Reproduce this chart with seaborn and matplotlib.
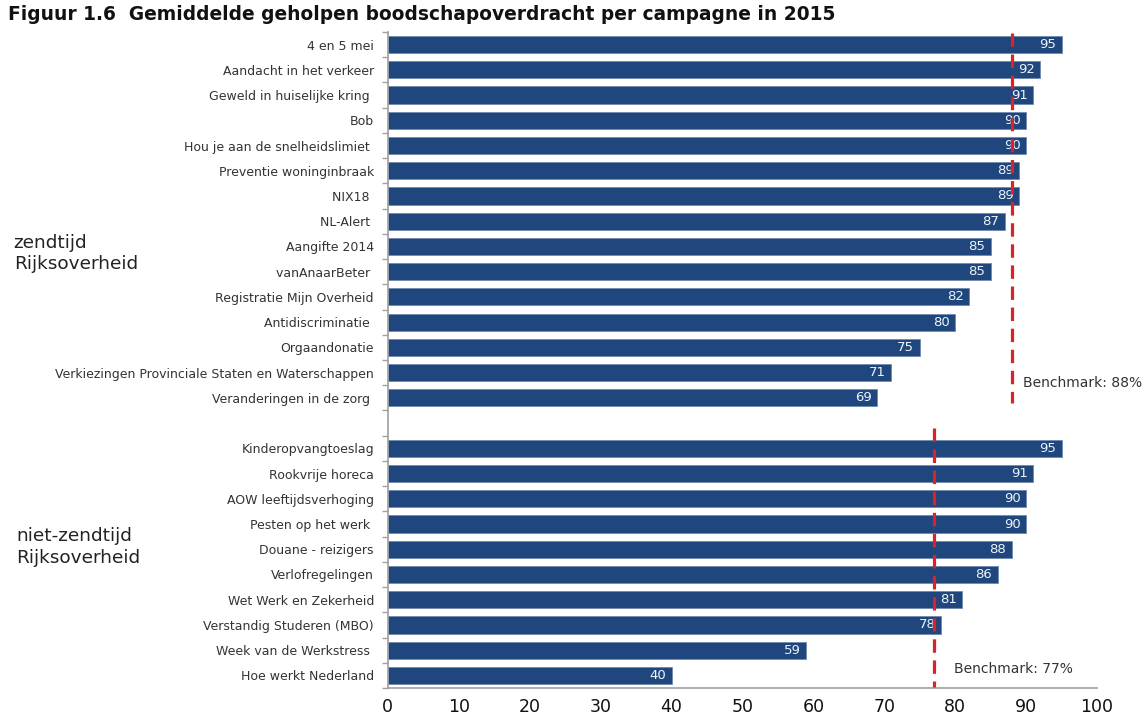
import matplotlib
matplotlib.use("Agg")
import matplotlib.pyplot as plt
import numpy as np
import pandas as pd
import seaborn as sns

# Campaigns broadcast in government airtime
zendtijd_campagnes = [
    "4 en 5 mei", "Aandacht in het verkeer", "Geweld in huiselijke kring ", "Bob",
    "Hou je aan de snelheidslimiet ", "Preventie woninginbraak", "NIX18 ", "NL-Alert ",
    "Aangifte 2014", "vanAnaarBeter ", "Registratie Mijn Overheid", "Antidiscriminatie ",
    "Orgaandonatie", "Verkiezingen Provinciale Staten en Waterschappen",
    "Veranderingen in de zorg ",
]
zendtijd_waarden = [95, 92, 91, 90, 90, 89, 89, 87, 85, 85, 82, 80, 75, 71, 69]

# Campaigns outside government airtime
niet_zendtijd_campagnes = [
    "Kinderopvangtoeslag", "Rookvrije horeca", "AOW leeftijdsverhoging",
    "Pesten op het werk ", "Douane - reizigers", "Verlofregelingen",
    "Wet Werk en Zekerheid", "Verstandig Studeren (MBO)", "Week van de Werkstress ",
    "Hoe werkt Nederland",
]
niet_zendtijd_waarden = [95, 91, 90, 90, 88, 86, 81, 78, 59, 40]

benchmark_zendtijd = 88
benchmark_niet_zendtijd = 77
x_ticks = list(range(0, 101, 10))

titel = "Figuur 1.6  Gemiddelde geholpen boodschapoverdracht per campagne in 2015"
groep_labels = ["zendtijd\nRijksoverheid", "niet-zendtijd\nRijksoverheid"]

BAR_COLOR = "#1F477E"
RED = "#D8232A"
GRID_GRAY = "#A0A0A0"

df = pd.DataFrame({
    "campagne": zendtijd_campagnes + niet_zendtijd_campagnes,
    "waarde": zendtijd_waarden + niet_zendtijd_waarden,
})
# an empty slot separates the two groups
order = zendtijd_campagnes + [""] + niet_zendtijd_campagnes
n_slots = len(order)
gap_idx = len(zendtijd_campagnes)

sns.set_theme(style="white")
plt.rcParams["font.family"] = ["DejaVu Sans"]

fig = plt.figure(figsize=(11.44, 7.2), dpi=100)
ax = fig.add_axes([0.339, 0.0444, 0.620, 0.9112])

sns.barplot(data=df, x="waarde", y="campagne", order=order, orient="h",
            color=BAR_COLOR, saturation=1, width=0.68, ax=ax,
            edgecolor="#6F8AAE", linewidth=0.6)

ax.set_xlim(0, 100)
ax.set_ylim(n_slots - 0.55, -0.45)
ax.set_xticks(x_ticks)
ax.set_xticklabels([str(t) for t in x_ticks], fontsize=12.5, color="#111111")
ax.set_xlabel("")
ax.set_ylabel("")
ax.tick_params(axis="y", length=0, labelsize=9.0, labelcolor="#333333", pad=10)
ax.tick_params(axis="x", direction="inout", length=6, width=1, color=GRID_GRAY, pad=4)
ax.set_yticks(np.arange(n_slots + 1) - 0.5, minor=True)
ax.tick_params(axis="y", which="minor", length=4, width=1, color=GRID_GRAY, direction="out", left=True)

for side in ["top", "right"]:
    ax.spines[side].set_visible(False)
for side in ["left", "bottom"]:
    ax.spines[side].set_color(GRID_GRAY)
    ax.spines[side].set_linewidth(1.2)

# value labels inside the bar end
for patch, campagne in zip(ax.containers[0], order):
    w = patch.get_width()
    if np.isnan(w) or w == 0:
        continue
    yc = patch.get_y() + patch.get_height() / 2
    ax.text(w - 0.8, yc, f"{w:.0f}", ha="right", va="center",
            fontsize=9.5, color="#EEF3FA", zorder=4)

# benchmark lines
dash = (0, (4.2, 2.4))
ax.vlines(benchmark_zendtijd, -0.45, gap_idx - 0.8, colors=RED,
          linewidth=2.3, linestyles=[dash], zorder=5)
ax.vlines(benchmark_niet_zendtijd, gap_idx + 0.2, n_slots - 0.55, colors=RED,
          linewidth=2.3, linestyles=[dash], zorder=5)
ax.text(benchmark_zendtijd + 1.5, gap_idx - 1.6, f"Benchmark: {benchmark_zendtijd}%",
        ha="left", va="center", fontsize=10.0, color="#333333", clip_on=False)
ax.text(benchmark_niet_zendtijd + 2.8, n_slots - 1.25, f"Benchmark: {benchmark_niet_zendtijd}%",
        ha="left", va="center", fontsize=10.0, color="#333333", clip_on=False)

# group labels on the left
fig.text(0.012, 0.648, groep_labels[0], ha="left", va="center",
         fontsize=13.3, color="#222222", linespacing=1.25)
fig.text(0.014, 0.240, groep_labels[1], ha="left", va="center",
         fontsize=13.3, color="#222222", linespacing=1.25)

fig.text(0.007, 0.980, titel, ha="left", va="center",
         fontsize=13.4, fontweight="bold", color="#111111")

fig.savefig("out.png", dpi=100)
